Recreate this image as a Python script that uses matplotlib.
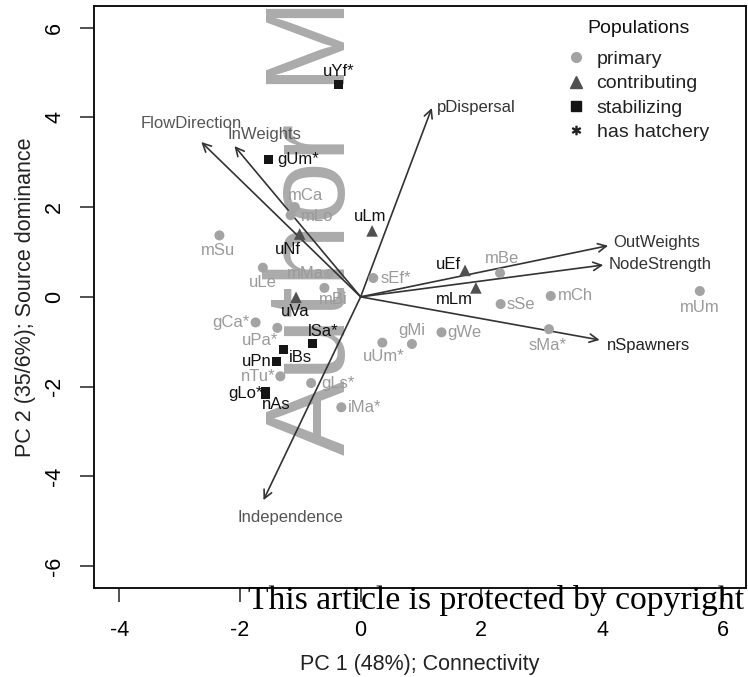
import matplotlib
matplotlib.use("Agg")
import matplotlib.pyplot as plt
from matplotlib.lines import Line2D

plt.rcParams['font.family'] = ['Liberation Sans', 'DejaVu Sans']
plt.rcParams['axes.unicode_minus'] = False

# ---------------- data ----------------
pop_names = ["mSu", "mCa", "mLo", "uNf", "uLm", "gUm*", "uYf*", "uLe", "mMa", "mBi",
             "sEf*", "uVa", "gCa*", "uPa*", "lSa*", "iBs", "uPn", "nTu*", "gLs*", "gLo*",
             "nAs", "iMa*", "uUm*", "gMi", "gWe", "uEf", "mBe", "mLm", "sSe", "mCh",
             "mUm", "sMa*"]
pc1 = [-2.34, -1.09, -1.16, -1.01, 0.19, -1.52, -0.36, -1.62, -0.53, -0.60,
       0.21, -1.07, -1.74, -1.38, -0.80, -1.27, -1.39, -1.33, -0.82, -1.58,
       -1.58, -0.32, 0.36, 0.85, 1.34, 1.73, 2.31, 1.91, 2.32, 3.15,
       5.62, 3.12]
pc2 = [1.37, 2.00, 1.82, 1.40, 1.47, 3.07, 4.73, 0.65, 0.51, 0.20,
       0.42, -0.01, -0.57, -0.69, -1.05, -1.17, -1.43, -1.77, -1.92, -2.11,
       -2.18, -2.46, -1.02, -1.05, -0.79, 0.59, 0.53, 0.20, -0.16, 0.02,
       0.13, -0.72]
pop_type = ["primary", "primary", "primary", "contributing", "contributing", "stabilizing",
            "stabilizing", "primary", "primary", "primary", "primary", "contributing",
            "primary", "primary", "stabilizing", "stabilizing", "stabilizing", "primary",
            "primary", "stabilizing", "stabilizing", "primary", "primary", "primary",
            "primary", "contributing", "primary", "contributing", "primary", "primary",
            "primary", "primary"]

var_names = ["FlowDirection", "InWeights", "pDispersal", "OutWeights", "NodeStrength",
             "nSpawners", "Independence"]
var_pc1 = [-2.64, -2.09, 1.18, 4.10, 4.02, 3.96, -1.61]
var_pc2 = [3.45, 3.36, 4.21, 1.14, 0.71, -0.96, -4.53]

x_ticks = [-4, -2, 0, 2, 4, 6]
y_ticks = [-6, -4, -2, 0, 2, 4, 6]
legend_title = "Populations"
legend_labels = ["primary", "contributing", "stabilizing", "has hatchery"]

# ---------------- styles / layout ----------------
styles = {
    "primary": dict(marker="o", color="#a3a3a3", s=52, text="#9a9a9a"),
    "contributing": dict(marker="^", color="#505050", s=70, text="#111111"),
    "stabilizing": dict(marker="s", color="#151515", s=42, text="#111111"),
}
# label placement: (ha, dx_px, dy_px)
label_pos = {
    "mSu": ("center", -1, -15), "mCa": ("center", 11, 12), "mLo": ("left", 10, -1),
    "uNf": ("center", -12, -15), "uLm": ("center", -2, 14), "gUm*": ("left", 8, 0),
    "uYf*": ("center", 0, 13), "uLe": ("center", 0, -15), "mMa": ("right", -5, 0),
    "mBi": ("center", 9, -12), "sEf*": ("left", 7, 0), "uVa": ("center", -1, -14),
    "gCa*": ("right", -6, 0), "uPa*": ("center", -17, -13), "lSa*": ("center", 11, 12),
    "iBs": ("left", 5, -8), "uPn": ("right", -5, 0), "nTu*": ("right", -5, 0),
    "gLs*": ("left", 10, 0), "gLo*": ("right", -3, -2), "nAs": ("center", 11, -10),
    "iMa*": ("left", 7, 0), "uUm*": ("center", 1, -14), "gMi": ("center", 0, 13),
    "gWe": ("left", 6, 0), "uEf": ("center", -17, 6), "mBe": ("center", 2, 15),
    "mLm": ("center", -21, -12), "sSe": ("left", 6, 0), "mCh": ("left", 7, 0),
    "mUm": ("center", 0, -16), "sMa*": ("center", -1, -16),
}
var_label_pos = {
    "FlowDirection": ("center", -10, 19, "#555555"),
    "InWeights": ("left", -7, 12, "#555555"),
    "pDispersal": ("left", 5, 0, "#333333"),
    "OutWeights": ("left", 5, 3, "#333333"),
    "NodeStrength": ("left", 5, 0, "#333333"),
    "nSpawners": ("left", 7, -6, "#222222"),
    "Independence": ("center", 27, -17, "#555555"),
}

fig = plt.figure(figsize=(7.48, 6.77), dpi=100)
ax = fig.add_axes([0.1263, 0.1319, 0.8706, 0.8592])
ax.set_xlim(-4.41, 6.38)
ax.set_ylim(-6.48, 6.48)

# watermark (behind data)
ax.text(-0.26, -3.53, "Author Manuscript", rotation=90, rotation_mode="anchor",
        ha="left", va="baseline", fontsize=81, color="#ababab", zorder=0.5,
        clip_on=True)

# arrows
for name, vx, vy in zip(var_names, var_pc1, var_pc2):
    ax.annotate("", xy=(vx, vy), xytext=(0, 0),
                arrowprops=dict(arrowstyle="->", color="#333333", lw=1.2,
                                shrinkA=0, shrinkB=0, mutation_scale=15),
                zorder=3)
    ha, dx, dy, col = var_label_pos[name]
    ax.annotate(name, xy=(vx, vy), xytext=(dx, dy), textcoords="offset pixels",
                ha=ha, va="center", fontsize=12, color=col, zorder=4)

# points
for t in ["primary", "contributing", "stabilizing"]:
    xs = [x for x, tt in zip(pc1, pop_type) if tt == t]
    ys = [y for y, tt in zip(pc2, pop_type) if tt == t]
    st = styles[t]
    ax.scatter(xs, ys, marker=st["marker"], c=st["color"], s=st["s"],
               edgecolors="none", zorder=5)

for name, x, y, t in zip(pop_names, pc1, pc2, pop_type):
    ha, dx, dy = label_pos[name]
    ax.annotate(name, xy=(x, y), xytext=(dx, dy), textcoords="offset pixels",
                ha=ha, va="center", fontsize=12, color=styles[t]["text"], zorder=6)

# legend
handles = [
    Line2D([], [], ls="", marker="o", color=styles["primary"]["color"], markersize=7),
    Line2D([], [], ls="", marker="^", color=styles["contributing"]["color"], markersize=8),
    Line2D([], [], ls="", marker="s", color=styles["stabilizing"]["color"], markersize=6.5),
    Line2D([], [], ls="", marker="$*$", color="#222222", markersize=6),
]
leg = ax.legend(handles, legend_labels, loc="upper left",
                bbox_to_anchor=(0.697, 0.954), frameon=False, fontsize=14,
                handlelength=1.0, handletextpad=0.58,
                labelspacing=0.35, borderpad=0.4)
for txt in leg.get_texts():
    txt.set_color("#222222")
ax.text(0.8357, 0.9617, legend_title, transform=ax.transAxes, ha="center",
        va="center", fontsize=14, color="#111111")

# axes styling
ax.set_xticks(x_ticks)
ax.set_yticks(y_ticks)
ax.tick_params(axis="both", direction="out", length=10, width=1.1, labelsize=15.5,
               color="#222222")
ax.tick_params(axis="x", pad=13)
ax.tick_params(axis="y", pad=11)
for lab in ax.get_yticklabels():
    lab.set_rotation(90)
    lab.set_va("center")
    lab.set_ha("right")
for sp in ax.spines.values():
    sp.set_linewidth(1.4)
    sp.set_color("#111111")

ax.set_xlabel("PC 1 (48%); Connectivity", fontsize=15.5, color="#222222")
ax.set_ylabel("PC 2 (35/6%); Source dominance", fontsize=15.5, color="#222222")
ax.xaxis.set_label_coords(0.5, -0.114)
ax.yaxis.set_label_coords(-0.0898, 0.5)

# copyright overlay
fig.text(0.3316, 0.1004, "This article is protected by copyright", fontsize=24.2,
         family=["Liberation Serif", "DejaVu Serif"], ha="left", va="baseline",
         color="black")

fig.savefig("out.png", dpi=100)
